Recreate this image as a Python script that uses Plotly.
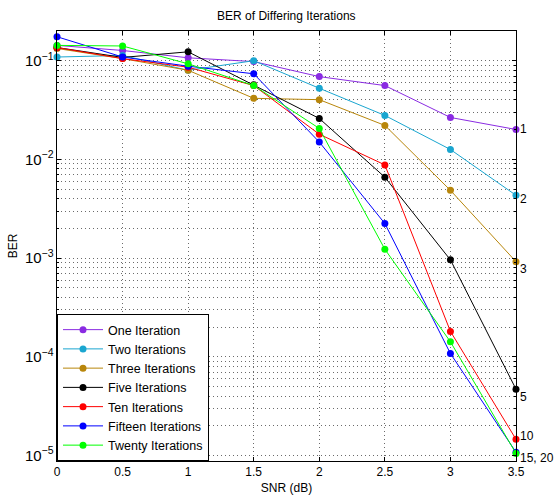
import plotly.graph_objects as go
import math

snr = [0, 0.5, 1, 1.5, 2, 2.5, 3, 3.5]
one_iter = [0.143, 0.127, 0.107, 0.098, 0.069, 0.056, 0.0266, 0.0201]
two_iter = [0.109, 0.113, 0.080, 0.100, 0.0526, 0.0279, 0.0126, 0.00433]
three_iter = [0.133, 0.105, 0.080, 0.0416, 0.0403, 0.0221, 0.00486, 0.00092]
five_iter = [0.136, 0.108, 0.123, 0.057, 0.026, 0.0066, 0.00096, 4.7e-5]
ten_iter = [0.136, 0.105, 0.086, 0.056, 0.018, 0.0088, 1.81e-4, 1.46e-5]
fifteen_iter = [0.175, 0.109, 0.088, 0.0737, 0.0150, 0.00224, 1.08e-4, 1.08e-5]
twenty_iter = [0.143, 0.141, 0.093, 0.056, 0.0206, 0.00123, 1.42e-4, 1.05e-5]

names = ["One Iteration", "Two Iterations", "Three Iterations", "Five Iterations",
         "Ten Iterations", "Fifteen Iterations", "Twenty Iterations"]
series = [one_iter, two_iter, three_iter, five_iter, ten_iter, fifteen_iter, twenty_iter]
colors = ["#8A2BE2", "#1AA6D0", "#B8860B", "#000000", "#FF0000", "#0000FF", "#00FF00"]

end_labels = ["1", "2", "3", "5", "10", "15, 20"]
end_values = [one_iter[-1], two_iter[-1], three_iter[-1], five_iter[-1], ten_iter[-1], twenty_iter[-1]]
end_shifts = [0, -4, -7, -8, 3, -5]

fig = go.Figure()
for n, s, c in zip(names, series, colors):
    fig.add_trace(go.Scatter(x=snr, y=s, name=n, mode="lines+markers",
                             line=dict(color=c, width=1),
                             marker=dict(color=c, size=7),
                             cliponaxis=False))

font = "Liberation Sans, Arial, sans-serif"
for t, v, sh in zip(end_labels, end_values, end_shifts):
    fig.add_annotation(x=snr[-1], y=math.log10(v), xref="x", yref="y", text=t,
                       showarrow=False, xanchor="left", yanchor="middle",
                       xshift=2, yshift=sh, font=dict(family=font, size=12, color="black"))

grid_col = "rgba(70,70,70,0.8)"
gdash = "1px,3px"
fig.update_layout(
    width=556, height=495,
    margin=dict(l=57, r=40, t=31, b=34, autoexpand=False),
    paper_bgcolor="white", plot_bgcolor="white",
    font=dict(family=font, size=11, color="black"),
    title=dict(text="BER of Differing Iterations", x=0.515, xanchor="center",
               y=0.968, yanchor="middle", font=dict(size=12)),
    showlegend=True,
    legend=dict(x=0, y=0, xanchor="left", yanchor="bottom",
                bgcolor="white", bordercolor="black", borderwidth=1,
                font=dict(size=12.5), tracegroupgap=0, itemwidth=40),
    xaxis=dict(range=[0, 3.5], dtick=0.5, showgrid=True, gridcolor=grid_col,
               griddash=gdash, gridwidth=1, zeroline=False, automargin=False,
               showline=True, linecolor="black", linewidth=1, mirror="ticks",
               ticks="inside", ticklen=4, tickcolor="black",
               title=dict(text="SNR (dB)", standoff=6, font=dict(size=12)),
               tickfont=dict(size=12)),
    yaxis=dict(type="log", range=[math.log10(8.8e-6), math.log10(0.2)], dtick=1,
               exponentformat="power", showgrid=True, gridcolor=grid_col,
               griddash=gdash, gridwidth=1, zeroline=False, automargin=False,
               showline=True, linecolor="black", linewidth=1, mirror="ticks",
               ticks="inside", ticklen=4, tickcolor="black",
               title=dict(text="BER", standoff=4, font=dict(size=12)),
               tickfont=dict(size=12),
               minor=dict(dtick="D1", showgrid=True, gridcolor=grid_col,
                          griddash=gdash, gridwidth=1, ticks="inside", ticklen=2,
                          tickcolor="black")),
)

fig.write_html("out.html")
